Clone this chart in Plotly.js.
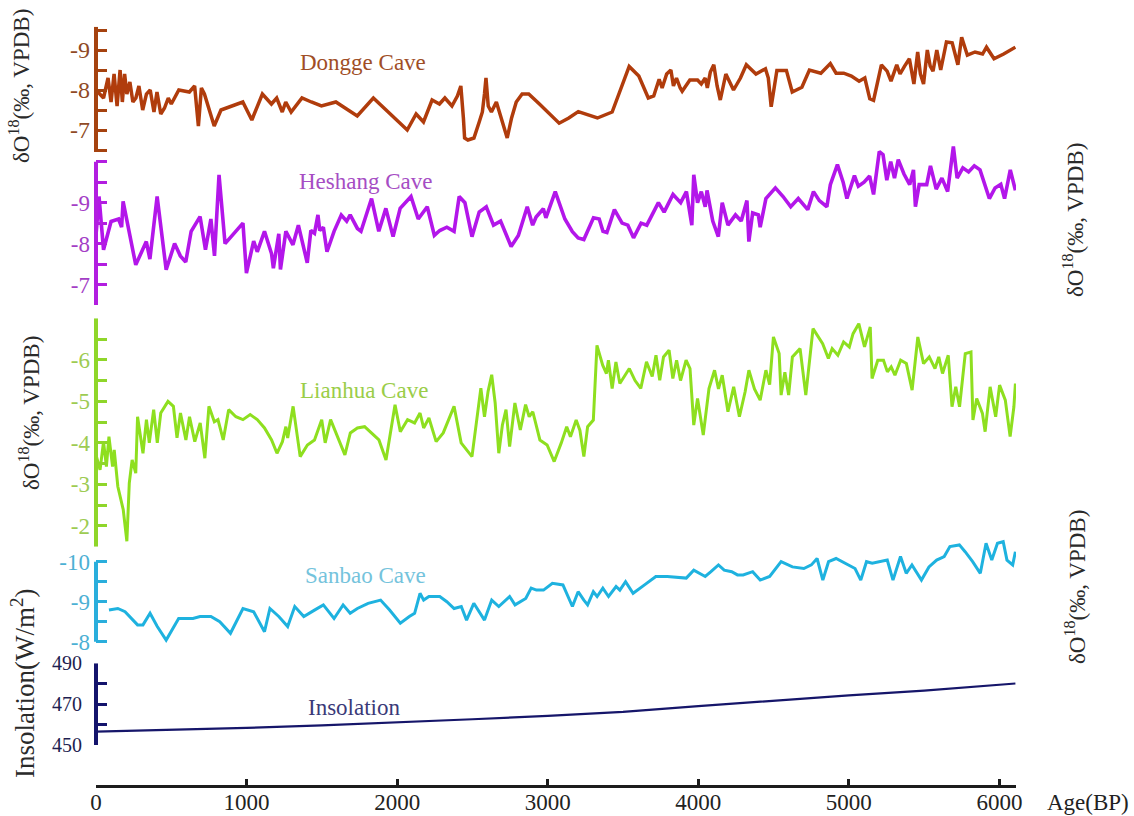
<!DOCTYPE html>
<html><head><meta charset="utf-8">
<script src="https://cdn.plot.ly/plotly-3.0.1.min.js"></script>
<style>html,body{margin:0;padding:0;background:#fff;}#chart{width:1134px;height:816px;}</style>
</head><body><div id="chart"></div>
<script>
// ---------- DATA ----------
const ageTicks = [0, 1000, 2000, 3000, 4000, 5000, 6000];
const ageTickText = ['0', '1000', '2000', '3000', '4000', '5000', '6000'];

const dongge_age = [0,50,80,100,120,140,160,175,190,205,225,245,265,285,310,335,360,385,405,430,455,480,500,550,620,655,680,700,720,785,830,900,975,1035,1105,1165,1200,1237,1260,1296,1368,1430,1497,1593,1735,1842,2067,2126,2175,2232,2281,2317,2364,2400,2423,2440,2448,2470,2510,2545,2566,2580,2590,2605,2626,2659,2690,2731,2760,2791,2830,2874,2945,3013,3076,3140,3203,3330,3428,3541,3605,3668,3704,3740,3760,3790,3818,3835,3855,3880,3893,3944,3995,4020,4046,4060,4080,4103,4125,4146,4183,4234,4280,4319,4383,4446,4465,4484,4510,4522,4585,4624,4688,4738,4814,4877,4915,4966,5017,5068,5106,5139,5164,5190,5216,5254,5280,5318,5340,5369,5402,5432,5457,5475,5496,5521,5540,5559,5584,5610,5648,5686,5724,5749,5787,5838,5888,5914,5964,6028,6079,6106];
const dongge_d18O = [-8.0,-7.8,-8.3,-7.7,-8.4,-7.6,-8.5,-7.7,-8.4,-7.9,-8.2,-7.7,-7.8,-8.1,-7.5,-7.9,-8.0,-7.45,-7.95,-7.4,-7.55,-7.8,-7.65,-8.0,-7.95,-8.1,-7.1,-8.05,-7.9,-7.1,-7.5,-7.6,-7.7,-7.25,-7.9,-7.65,-7.8,-7.45,-7.7,-7.45,-7.8,-7.7,-7.6,-7.7,-7.35,-7.8,-7.0,-7.4,-7.2,-7.75,-7.65,-7.8,-7.6,-7.85,-8.1,-7.3,-6.8,-6.75,-6.8,-7.2,-7.45,-7.9,-8.3,-7.6,-7.45,-7.7,-7.3,-6.8,-7.3,-7.7,-7.9,-7.9,-7.65,-7.4,-7.17,-7.3,-7.46,-7.3,-7.45,-8.59,-8.35,-7.8,-7.85,-8.27,-8.05,-8.4,-8.5,-8.1,-8.3,-8.05,-7.97,-8.25,-8.25,-8.15,-8.3,-8.05,-8.45,-8.63,-8.1,-7.75,-8.4,-8.0,-8.3,-8.63,-8.4,-8.53,-8.3,-7.58,-8.3,-8.49,-8.49,-7.95,-8.07,-8.5,-8.42,-8.66,-8.42,-8.42,-8.35,-8.22,-8.3,-7.78,-7.74,-8.2,-8.63,-8.47,-8.22,-8.63,-8.4,-8.59,-8.78,-8.15,-8.95,-8.4,-8.15,-9.0,-8.6,-8.47,-9.0,-8.5,-9.2,-9.18,-8.63,-9.32,-8.87,-8.95,-8.9,-9.07,-8.78,-8.9,-9.0,-9.07];

const heshang_age = [0,20,50,100,150,170,180,264,334,358,406,466,522,560,596,632,691,727,763,787,817,857,976,999,1047,1071,1119,1166,1178,1214,1225,1261,1308,1344,1403,1427,1451,1474,1486,1510,1534,1581,1629,1665,1688,1736,1760,1830,1878,1925,1973,2020,2092,2140,2200,2247,2283,2330,2378,2412,2450,2497,2545,2592,2640,2687,2757,2805,2864,2900,2923,2971,2988,3050,3114,3164,3202,3240,3304,3342,3367,3393,3443,3494,3532,3570,3620,3658,3735,3773,3832,3883,3921,3957,3970,3995,4020,4046,4058,4096,4133,4159,4197,4247,4285,4323,4336,4361,4399,4411,4449,4512,4563,4614,4664,4727,4765,4804,4854,4877,4924,4962,4987,5037,5063,5101,5138,5164,5202,5227,5252,5278,5303,5328,5366,5404,5429,5442,5467,5517,5542,5580,5618,5656,5694,5719,5757,5795,5833,5871,5933,5971,6009,6034,6072,6106];
const heshang_d18O = [-8.2,-9.15,-7.85,-8.54,-8.6,-8.4,-9.03,-7.48,-8.05,-7.62,-9.15,-7.36,-8.0,-7.7,-7.55,-8.3,-8.66,-7.85,-8.6,-7.7,-9.68,-8.0,-8.5,-7.28,-8.06,-7.8,-8.3,-7.75,-7.4,-8.24,-7.37,-8.3,-7.97,-8.45,-7.53,-8.32,-8.25,-8.7,-8.32,-8.4,-7.8,-8.3,-8.7,-8.55,-8.7,-8.37,-8.3,-9.1,-8.3,-8.86,-8.17,-8.86,-9.15,-8.6,-8.9,-8.2,-8.32,-8.4,-8.3,-9.15,-9.0,-8.17,-8.77,-8.9,-8.45,-8.55,-7.93,-8.2,-8.9,-8.45,-8.65,-8.85,-8.63,-9.27,-8.6,-8.29,-8.14,-8.1,-8.63,-8.6,-8.3,-8.27,-8.83,-8.5,-8.45,-8.14,-8.5,-8.45,-9.0,-8.77,-9.2,-9.0,-9.27,-8.45,-9.68,-9.0,-9.27,-8.9,-9.3,-8.55,-8.17,-9.0,-8.45,-8.7,-8.55,-9.05,-8.05,-8.75,-8.7,-8.4,-9.1,-9.36,-9.15,-8.9,-9.1,-8.83,-9.27,-9.05,-8.9,-9.44,-9.93,-9.5,-9.1,-9.66,-9.4,-9.5,-9.65,-9.2,-10.25,-10.17,-9.55,-10.0,-9.6,-10.05,-9.7,-9.44,-9.8,-8.9,-9.44,-9.44,-9.9,-9.33,-9.6,-9.27,-10.37,-9.6,-9.85,-9.75,-9.9,-9.8,-9.1,-9.36,-9.45,-9.1,-9.8,-9.3];

const lianhua_age = [3,27,50,69,86,110,121,145,181,205,221,240,264,276,312,335,354,383,407,430,478,514,538,561,597,621,656,692,723,750,786,810,845,881,929,976,1024,1071,1119,1166,1202,1238,1261,1273,1309,1356,1404,1451,1499,1522,1558,1606,1653,1689,1736,1784,1831,1879,1926,1986,2021,2069,2116,2152,2176,2211,2259,2306,2378,2425,2497,2556,2580,2604,2628,2651,2675,2699,2723,2747,2782,2818,2853,2877,2901,2948,2996,3043,3090,3126,3151,3189,3214,3240,3265,3303,3327,3365,3390,3403,3428,3453,3479,3542,3580,3618,3656,3694,3719,3744,3769,3806,3831,3856,3882,3919,3945,3970,3995,4033,4071,4108,4134,4159,4197,4235,4273,4311,4336,4373,4411,4449,4474,4499,4537,4550,4575,4600,4625,4676,4714,4762,4826,4864,4889,4927,4965,5003,5028,5066,5104,5142,5154,5192,5230,5256,5281,5306,5344,5382,5420,5458,5496,5534,5572,5597,5622,5660,5685,5710,5735,5773,5811,5824,5849,5887,5905,5938,5975,6001,6039,6071,6096,6106];
const lianhua_d18O = [-3.67,-3.35,-4.03,-3.43,-4.15,-3.43,-3.83,-2.95,-2.39,-1.63,-3.03,-3.59,-3.27,-4.63,-3.75,-4.56,-4.0,-4.8,-4.0,-4.72,-5.0,-4.88,-4.12,-4.72,-4.07,-4.63,-4.03,-4.48,-3.63,-4.88,-4.51,-4.56,-4.07,-4.8,-4.63,-4.56,-4.68,-4.56,-4.36,-4.07,-3.75,-4.03,-4.39,-4.12,-4.88,-3.67,-3.95,-4.07,-4.56,-4.0,-4.56,-4.15,-3.71,-4.24,-4.36,-4.39,-4.24,-4.07,-3.59,-4.92,-4.27,-4.56,-4.48,-4.72,-4.36,-4.6,-4.03,-4.24,-4.88,-4.0,-3.67,-5.32,-4.63,-5.24,-5.64,-4.96,-3.75,-4.43,-4.8,-3.91,-4.96,-4.31,-4.92,-4.63,-4.75,-4.07,-3.95,-3.55,-4.0,-4.39,-4.15,-4.55,-4.3,-3.67,-4.39,-4.55,-6.35,-5.87,-5.67,-5.99,-5.31,-5.95,-5.43,-5.79,-5.5,-5.31,-5.95,-5.6,-6.11,-5.51,-6.07,-6.23,-5.55,-5.99,-5.5,-5.99,-5.79,-4.43,-5.07,-4.19,-5.31,-5.75,-5.3,-5.63,-4.75,-5.35,-4.63,-5.23,-5.75,-5.3,-5.03,-5.75,-5.4,-6.55,-6.15,-5.15,-5.7,-5.15,-6.07,-6.27,-5.15,-6.75,-6.39,-6.03,-6.27,-6.11,-6.43,-6.31,-6.63,-6.87,-6.31,-6.79,-5.55,-5.99,-5.99,-5.71,-5.83,-5.63,-5.99,-5.91,-5.27,-6.55,-5.91,-6.07,-5.79,-6.07,-5.67,-6.11,-4.87,-5.35,-4.87,-6.15,-6.19,-4.55,-5.07,-4.71,-4.27,-5.35,-4.63,-5.39,-5.03,-4.15,-4.87,-5.43];

const sanbao_age = [86,145,193,276,312,359,407,466,549,644,691,763,822,893,976,1047,1119,1155,1214,1273,1320,1380,1451,1510,1581,1641,1688,1736,1807,1890,1950,2021,2081,2116,2152,2176,2211,2283,2330,2378,2426,2461,2509,2580,2628,2675,2747,2783,2854,2890,2925,2972,3031,3101,3164,3202,3240,3265,3303,3328,3366,3404,3454,3479,3517,3567,3643,3718,3794,3869,3920,3970,4046,4084,4134,4172,4222,4260,4298,4361,4411,4474,4550,4625,4701,4751,4789,4827,4865,4915,4978,5041,5079,5117,5155,5205,5255,5293,5343,5381,5419,5482,5532,5583,5633,5671,5734,5772,5822,5873,5911,5949,5987,6025,6050,6088,6106];
const sanbao_d18O = [-8.79,-8.83,-8.75,-8.42,-8.42,-8.71,-8.38,-8.04,-8.58,-8.58,-8.63,-8.63,-8.5,-8.21,-8.83,-8.75,-8.25,-8.83,-8.63,-8.38,-8.88,-8.63,-8.79,-8.92,-8.58,-8.92,-8.71,-8.83,-8.96,-9.04,-8.79,-8.46,-8.63,-8.71,-9.21,-9.04,-9.13,-9.13,-9.0,-8.83,-8.88,-8.54,-8.96,-8.54,-9.04,-8.88,-9.13,-8.92,-9.08,-9.34,-9.29,-9.29,-9.46,-9.42,-8.88,-9.25,-9.04,-8.92,-9.25,-9.13,-9.34,-9.13,-9.38,-9.29,-9.5,-9.21,-9.42,-9.63,-9.63,-9.61,-9.59,-9.79,-9.63,-9.75,-9.92,-9.79,-9.75,-9.67,-9.67,-9.75,-9.54,-9.63,-10.0,-9.87,-9.83,-9.92,-10.08,-9.54,-10.0,-10.08,-9.96,-9.83,-9.54,-10.0,-9.96,-10.0,-10.04,-9.54,-10.13,-9.71,-9.92,-9.54,-9.87,-10.04,-10.13,-10.38,-10.42,-10.25,-10.0,-9.71,-10.46,-10.04,-10.46,-10.5,-10.04,-9.92,-10.25];

const insol_age = [0,500,1000,1500,2000,2500,3000,3500,4000,4500,5000,5500,6106];
const insol_wm2 = [456.5,457.4,458.4,459.6,461.0,462.6,464.3,466.2,469.0,471.8,474.3,476.6,480.1];

// labelled ticks and unlabelled half-step ticks for each y axis
const dongge_ticks = [-9, -8, -7];
const dongge_tickText = ['-9', '-8', '-7'];
const dongge_minor = [-9.5, -8.5, -7.5, -6.5];
const heshang_ticks = [-9, -8, -7];
const heshang_tickText = ['-9', '-8', '-7'];
const heshang_minor = [-10, -9.5, -8.5, -7.5, -6.5];
const lianhua_ticks = [-6, -5, -4, -3, -2];
const lianhua_tickText = ['-6', '-5', '-4', '-3', '-2'];
const lianhua_minor = [-7, -6.5, -5.5, -4.5, -3.5, -2.5, -1.5];
const sanbao_ticks = [-10, -9, -8];
const sanbao_tickText = ['-10', '-9', '-8'];
const sanbao_minor = [-9.5, -8.5];
const insol_ticks = [450, 470, 490];
const insol_tickText = ['450', '470', '490'];
const insol_minor = [460, 480];

const caveNames = ['Dongge Cave', 'Heshang Cave', 'Lianhua Cave', 'Sanbao Cave', 'Insolation'];

// ---------- LAYOUT HELPERS ----------
const W = 1134, H = 816, ML = 96, MR = 118, MT = 20, MB = 30;
const PW = W - ML - MR, PH = H - MT - MB;
const px2x = p => (p - ML) / PW;
const py2y = p => (H - MB - p) / PH;
const FONT = 'Liberation Serif, Times New Roman, serif';

const C = {
  dg: {line:'#B03C0C', spine:'#A5420F', lab:'#8F4A26', txt:'#A04E26'},
  hs: {line:'#B316EA', spine:'#B21EE0', lab:'#A33EC6', txt:'#A64DC4'},
  lh: {line:'#8EDF1F', spine:'#8FD62A', lab:'#9DCB52', txt:'#9ACD48'},
  sb: {line:'#1EB2DF', spine:'#2AAEDC', lab:'#4CB0D4', txt:'#74C3DC'},
  in: {line:'#16166A', spine:'#14146C', lab:'#1E1E50', txt:'#3A3A78'}
};

function yax(domain, range, ticks, text, minor, col, fsize, standoff) {
  return {domain: domain, range: range, anchor: 'x', showline: false, showgrid: false, zeroline: false,
    ticks: 'inside', ticklen: 11, tickwidth: 3, tickcolor: col.spine,
    tickmode: 'array', tickvals: ticks, ticktext: text, ticklabelstandoff: standoff,
    minor: {tickmode: 'array', tickvals: minor, ticks: 'inside', ticklen: 11, tickwidth: 3, tickcolor: col.spine, showgrid: false},
    tickfont: {family: FONT, size: fsize, color: col.lab}, fixedrange: true};
}

const traces = [
  {x: dongge_age, y: dongge_d18O, yaxis: 'y', mode: 'lines', line: {color: C.dg.line, width: 3.5}},
  {x: heshang_age, y: heshang_d18O, yaxis: 'y2', mode: 'lines', line: {color: C.hs.line, width: 3.6}},
  {x: lianhua_age, y: lianhua_d18O, yaxis: 'y3', mode: 'lines', line: {color: C.lh.line, width: 3}},
  {x: sanbao_age, y: sanbao_d18O, yaxis: 'y4', mode: 'lines', line: {color: C.sb.line, width: 3}},
  {x: insol_age, y: insol_wm2, yaxis: 'y5', mode: 'lines', line: {color: C.in.line, width: 2.2}}
];

function spine(yref, y0, y1, col) {
  return {type: 'line', xref: 'paper', yref: yref, x0: 0, x1: 0, y0: y0, y1: y1, line: {color: col, width: 4}};
}
function label(text, cx, cy, col, size) {
  return {text: text, xref: 'paper', yref: 'paper', x: px2x(cx), y: py2y(cy), xanchor: 'center', yanchor: 'middle',
    showarrow: false, font: {family: FONT, size: size, color: col}};
}
function vtitle(text, cx, cy, size) {
  return {text: text, xref: 'paper', yref: 'paper', x: px2x(cx), y: py2y(cy), xanchor: 'center', yanchor: 'middle',
    textangle: -90, showarrow: false, font: {family: FONT, size: size, color: '#2a2a2a'}};
}

const d18 = 'δO<sup>18</sup>(‰, VPDB)';

const layout = {
  width: W, height: H,
  margin: {l: ML, r: MR, t: MT, b: MB, pad: 0},
  paper_bgcolor: '#ffffff', plot_bgcolor: 'rgba(0,0,0,0)',
  showlegend: false,
  font: {family: FONT, size: 23, color: '#222'},
  xaxis: {domain: [0, 1], range: [0, 6110], anchor: 'free', position: 0,
    showline: true, linecolor: '#1c1c1c', linewidth: 2.5, showgrid: false, zeroline: false,
    ticks: 'inside', ticklen: 6, tickwidth: 3, tickcolor: '#1c1c1c',
    tickmode: 'array', tickvals: ageTicks, ticktext: ageTickText, ticklabelstandoff: -5,
    tickfont: {family: FONT, size: 23, color: '#222'}, fixedrange: true},
  yaxis:  yax([py2y(152), py2y(26.8)], [-6.45, -9.58], dongge_ticks, dongge_tickText, dongge_minor, C.dg, 24, 5),
  yaxis2: yax([py2y(305), py2y(143.3)], [-6.5, -10.45], heshang_ticks, heshang_tickText, heshang_minor, C.hs, 23, 5),
  yaxis3: yax([py2y(546.7), py2y(318.3)], [-1.5, -7], lianhua_ticks, lianhua_tickText, lianhua_minor, C.lh, 23, 5),
  yaxis4: yax([py2y(645.7), py2y(537.7)], [-7.9, -10.6], sanbao_ticks, sanbao_tickText, sanbao_minor, C.sb, 23, 5),
  yaxis5: yax([py2y(745), py2y(663.3)], [450, 490], insol_ticks, insol_tickText, insol_minor, C.in, 20, 13),
  shapes: [
    spine('y', -9.58, -6.45, C.dg.spine),
    spine('y2', -10, -6.5, C.hs.spine),
    spine('y3', -7, -1.5, C.lh.spine),
    spine('y4', -10, -8, C.sb.spine),
    spine('y5', 450, 490, C.in.spine)
  ],
  annotations: [
    label(caveNames[0], 363, 62, C.dg.txt, 23),
    label(caveNames[1], 366, 182, C.hs.txt, 23),
    label(caveNames[2], 364, 390, C.lh.txt, 23),
    label(caveNames[3], 365, 575, C.sb.txt, 23),
    label(caveNames[4], 354, 707, C.in.txt, 23),
    vtitle(d18, 20, 86, 23),
    vtitle(d18, 1074, 220, 23),
    vtitle(d18, 30, 413, 23),
    vtitle(d18, 1075, 587, 23),
    vtitle('Insolation(W/m<sup>2</sup>)', 23, 684, 27),
    {text: 'Age(BP)', xref: 'paper', yref: 'paper', x: px2x(1088), y: py2y(802), xanchor: 'center', yanchor: 'middle',
      showarrow: false, font: {family: FONT, size: 23, color: '#222'}}
  ]
};

Plotly.newPlot('chart', traces, layout, {staticPlot: true, displayModeBar: false});
</script>
</body></html>
